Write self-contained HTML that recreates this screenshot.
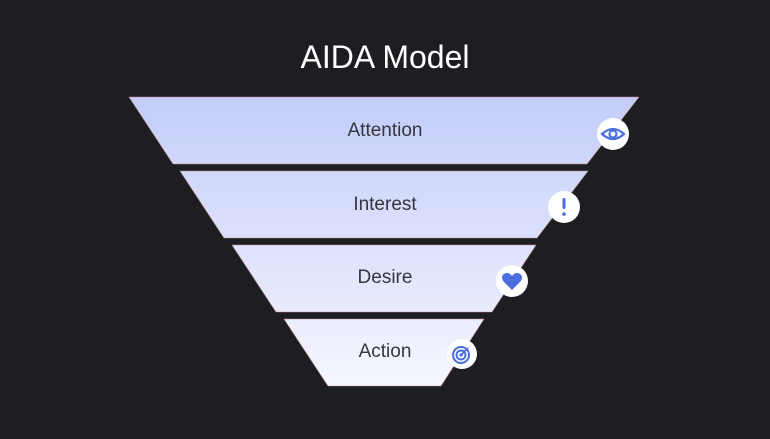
<!DOCTYPE html>
<html><head><meta charset="utf-8"><style>
html,body{margin:0;padding:0;background:#1d1e22;}
body{width:770px;height:434px;overflow:hidden;font-family:"Liberation Sans",sans-serif;}
</style></head><body>
<svg width="770" height="434" viewBox="0 0 770 434" xmlns="http://www.w3.org/2000/svg">
<defs>
<linearGradient id="g" gradientUnits="userSpaceOnUse" x1="0" y1="97" x2="0" y2="386">
<stop offset="0" stop-color="#c3cdf9"/><stop offset="1" stop-color="#f5f6fe"/>
</linearGradient>
</defs>
<rect width="770" height="434" fill="#1d1e22"/>
<text x="385" y="68" text-anchor="middle" font-size="32" fill="#ffffff" font-family="Liberation Sans, sans-serif">AIDA Model</text>
<g fill="url(#g)" stroke="#c98a8a" stroke-width="0.6" stroke-linejoin="round">
<polygon points="129,97 639,97 587,164 173,164"/>
<polygon points="180,171 588,171 537,238 224,238"/>
<polygon points="232,245 536,245 492,312 276,312"/>
<polygon points="284,319 484,319 441,386 328,386"/>
</g>
<g font-size="19" fill="#34363d" text-anchor="middle" font-family="Liberation Sans, sans-serif">
<text x="385" y="136">Attention</text>
<text x="385" y="210">Interest</text>
<text x="385" y="283">Desire</text>
<text x="385" y="357">Action</text>
</g>
<g fill="#ffffff">
<circle cx="613" cy="134" r="16"/>
<circle cx="564" cy="207" r="16"/>
<circle cx="512" cy="281" r="16"/>
<circle cx="462" cy="354" r="15"/>
</g>
<path d="M602,134 Q613,124 624,134 Q613,144 602,134Z" fill="none" stroke="#4a6ee0" stroke-width="2.2"/>
<circle cx="613" cy="134" r="3.5" fill="none" stroke="#4a6ee0" stroke-width="2.2"/>
<rect x="562.5" y="198" width="3" height="11" rx="1.2" fill="#4a6ee0"/>
<circle cx="564" cy="214" r="1.8" fill="#4a6ee0"/>
<path d="M512,290 L504,282 Q500,277 504,274 Q508,271 512,276 Q516,271 520,274 Q524,277 520,282 Z" fill="#4a6ee0"/>
<g fill="none" stroke="#4a6ee0" stroke-width="2">
<circle cx="461" cy="355" r="8"/><circle cx="461" cy="355" r="4.5"/>
</g>
<circle cx="461" cy="355" r="1.6" fill="#4a6ee0"/>
<path d="M461,355 L468,348" stroke="#4a6ee0" stroke-width="1.8"/>
</svg>
</body></html>
